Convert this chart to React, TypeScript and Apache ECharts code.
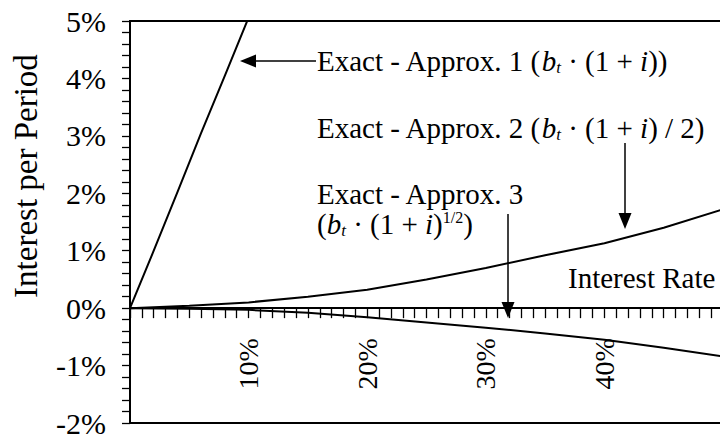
import { useEffect, useRef } from "react";
import * as echarts from "echarts";

// Interest rate (%) sample points
const approx1Rates = [0, 2, 4, 6, 8, 10];
const approx1Values = [0, 1.0, 2.02, 3.05, 4.05, 5.06];

const rates = [0, 5, 10, 15, 20, 25, 30, 35, 40, 45, 50];
const approx2Values = [0, 0.04, 0.1, 0.2, 0.32, 0.5, 0.7, 0.92, 1.13, 1.4, 1.72];
const approx3Values = [0, -0.01, -0.03, -0.08, -0.16, -0.25, -0.34, -0.44, -0.55, -0.69, -0.84];

const xMin = 0;
const xMax = 50;
const xStep = 10;
const yMin = -2;
const yMax = 5;
const yStep = 1;

const yTitle = "Interest per Period";
const xTitle = "Interest Rate";

const FONT = "Liberation Serif";

const W = 720;
const H = 434;
const GRID_TOP = 21;
const GRID_BOTTOM = 11;

export default function App() {
  const ref = useRef<HTMLDivElement>(null);

  useEffect(() => {
    if (!ref.current) return;
    const chart = echarts.init(ref.current, undefined, { renderer: "svg" });

    const pairs = (xs: number[], ys: number[]) => xs.map((x, i) => [x, ys[i]]);

    const gridHeight = H - GRID_TOP - GRID_BOTTOM;
    const zeroOffset = -(gridHeight * (0 - yMin)) / (yMax - yMin);

    const FS = 29;
    const rich = {
      it: { fontStyle: "italic", fontSize: FS, fontFamily: FONT, lineHeight: 30 },
      sub: { fontStyle: "italic", fontSize: 17, fontFamily: FONT, lineHeight: 15, verticalAlign: "bottom" },
      sup: { fontSize: 16, fontFamily: FONT, lineHeight: 20, verticalAlign: "top" },
    };
    const textStyle = (text: string) => ({
      text,
      rich,
      fontSize: FS,
      fontFamily: FONT,
      fill: "#000",
      lineHeight: 30,
      align: "left",
      verticalAlign: "middle",
    });

    const seriesLine = { color: "#000", width: 2 };

    chart.setOption({
      animation: false,
      backgroundColor: "#fff",
      grid: {
        left: 130,
        top: GRID_TOP,
        right: -3,
        bottom: GRID_BOTTOM,
        show: true,
        borderColor: "#000",
        borderWidth: 2,
        backgroundColor: "transparent",
        containLabel: false,
        outerBoundsMode: "none",
      },
      xAxis: {
        type: "value",
        min: xMin,
        max: xMax,
        interval: xStep,
        offset: zeroOffset,
        axisLine: { show: true, onZero: false, lineStyle: { color: "#000", width: 2 } },
        axisTick: { show: true, length: 10, inside: false, lineStyle: { color: "#000", width: 1.3 } },
        minorTick: { show: true, splitNumber: 10, length: 10, lineStyle: { color: "#000", width: 1.3 } },
        splitLine: { show: false },
        minorSplitLine: { show: false },
        axisLabel: {
          rotate: 90,
          margin: 30,
          fontSize: 28,
          fontFamily: FONT,
          color: "#000",
          formatter: (v: number) => (v === xMin || v === xMax ? "" : `${v}%`),
        },
      },
      yAxis: {
        type: "value",
        min: yMin,
        max: yMax,
        interval: yStep,
        axisLine: { show: true, lineStyle: { color: "#000", width: 2 } },
        axisTick: { show: true, length: 8, inside: false, lineStyle: { color: "#000", width: 1.3 } },
        minorTick: { show: true, splitNumber: 5, length: 8, lineStyle: { color: "#000", width: 1.3 } },
        splitLine: { show: false },
        minorSplitLine: { show: false },
        axisLabel: {
          margin: 24,
          fontSize: 30,
          fontFamily: FONT,
          color: "#000",
          formatter: (v: number) => `${v}%`,
        },
      },
      series: [
        {
          name: "Exact - Approx. 1",
          type: "line",
          data: pairs(approx1Rates, approx1Values),
          showSymbol: false,
          lineStyle: seriesLine,
          clip: true,
        },
        {
          name: "Exact - Approx. 2",
          type: "line",
          data: pairs(rates, approx2Values),
          showSymbol: false,
          lineStyle: seriesLine,
          clip: true,
        },
        {
          name: "Exact - Approx. 3",
          type: "line",
          data: pairs(rates, approx3Values),
          showSymbol: false,
          lineStyle: seriesLine,
          clip: true,
        },
      ],
      graphic: [
        {
          type: "text",
          x: 26,
          y: 176,
          rotation: Math.PI / 2,
          style: {
            text: yTitle,
            fontSize: 33,
            fontFamily: FONT,
            fill: "#000",
            align: "center",
            verticalAlign: "middle",
          },
        },
        {
          type: "text",
          x: 568,
          y: 278,
          style: {
            text: xTitle,
            fontSize: FS,
            fontFamily: FONT,
            fill: "#000",
            align: "left",
            verticalAlign: "middle",
          },
        },
        {
          type: "text",
          x: 317,
          y: 61,
          style: textStyle("Exact - Approx. 1 ({it|b}{sub|t} · (1 + {it|i}))"),
        },
        {
          type: "text",
          x: 317,
          y: 128,
          style: textStyle("Exact - Approx. 2 ({it|b}{sub|t} · (1 + {it|i}) / 2)"),
        },
        {
          type: "text",
          x: 317,
          y: 194,
          style: { ...textStyle("Exact - Approx. 3"), lineHeight: 26 },
        },
        {
          type: "text",
          x: 317,
          y: 224,
          style: textStyle("({it|b}{sub|t} · (1 + {it|i}){sup|1/2})"),
        },
        // Arrow 1 (pointing left)
        {
          type: "line",
          shape: { x1: 252, y1: 61, x2: 316, y2: 61 },
          style: { stroke: "#000", lineWidth: 1.5 },
        },
        {
          type: "polygon",
          shape: { points: [[240, 61], [256, 54.5], [256, 67.5]] },
          style: { fill: "#000" },
        },
        // Arrow 2 (pointing down)
        {
          type: "line",
          shape: { x1: 625, y1: 143, x2: 625, y2: 216 },
          style: { stroke: "#000", lineWidth: 1.5 },
        },
        {
          type: "polygon",
          shape: { points: [[625, 229], [618.5, 213], [631.5, 213]] },
          style: { fill: "#000" },
        },
        // Arrow 3 (pointing down)
        {
          type: "line",
          shape: { x1: 508, y1: 214, x2: 508, y2: 305 },
          style: { stroke: "#000", lineWidth: 1.5 },
        },
        {
          type: "polygon",
          shape: { points: [[508, 318], [501.5, 302], [514.5, 302]] },
          style: { fill: "#000" },
        },
      ],
    });

    return () => chart.dispose();
  }, []);

  return (
    <div
      ref={ref}
      style={{ position: "fixed", left: 0, top: 0, width: W, height: H, background: "#fff" }}
    />
  );
}
